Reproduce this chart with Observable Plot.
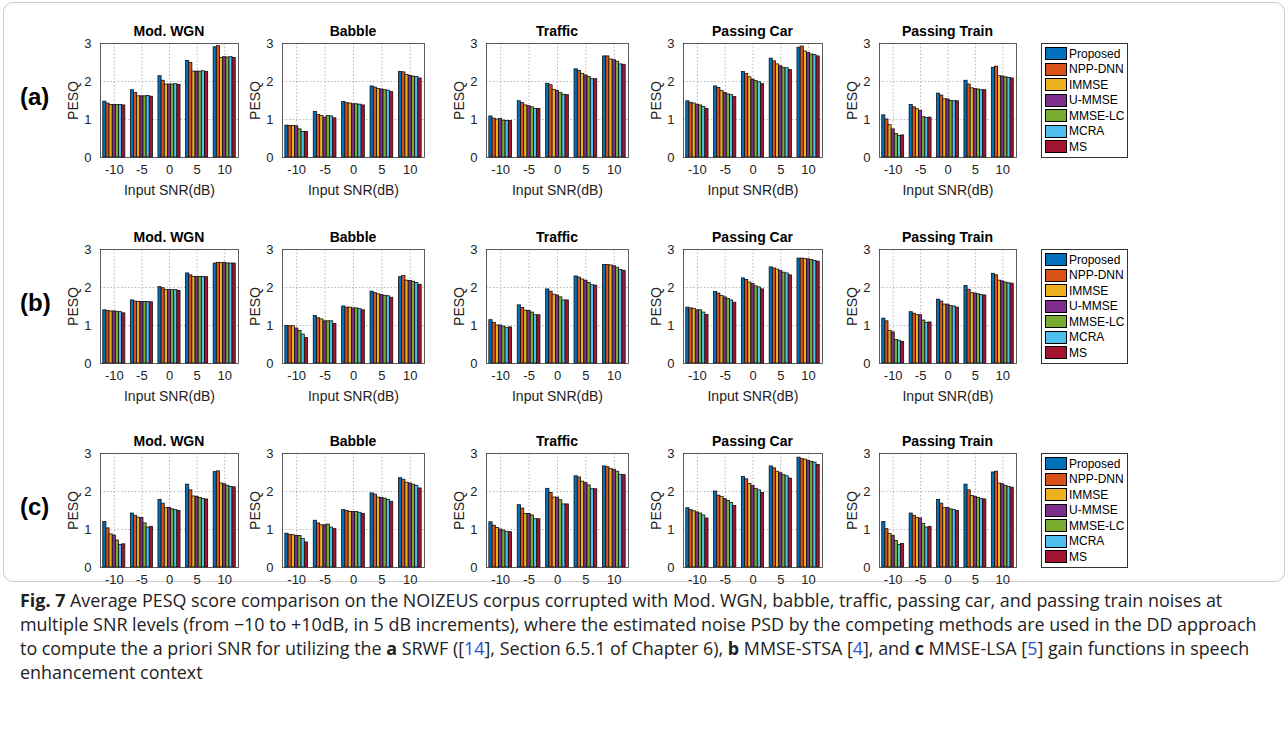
<!DOCTYPE html>
<html>
<head>
<meta charset="utf-8">
<script src="https://cdn.jsdelivr.net/npm/d3@7"></script>
<script src="https://cdn.jsdelivr.net/npm/@observablehq/plot@0.6"></script>
<style>
  body { margin: 0; background: #fff; font-family: "Liberation Sans", Arial, sans-serif; }
  #fig { position: relative; width: 1288px; height: 737px; }
  .box { position: absolute; left: 3px; top: 2px; width: 1280px; height: 578px; border: 1px solid #ccc; border-radius: 10px; }
  .title { position: absolute; font-weight: bold; font-size: 14px; text-align: center; }
  .tag { position: absolute; font-weight: bold; font-size: 24px; }
  .panel { position: absolute; }
  .legend { position: absolute; border: 1px solid #333; background: #fff; font-size: 12px; padding: 2px 3px; }
  .legend div { display: flex; align-items: center; height: 15.5px; }
  .legend span.sw { width: 20px; height: 11px; border: 1px solid #000; margin-right: 2px; }
  .caption { position: absolute; left: 20px; top: 588px; width: 1258px; font-family: "Open Sans", sans-serif; font-size: 17.9px; line-height: 24px; color: #222; }
  .caption a { color: #2a4fd6; text-decoration: none; }
</style>
</head>
<body>
<div id="fig"><div class="box"></div></div>
<script>
// methods and snr levels
const methods = ["Proposed", "NPP-DNN", "IMMSE", "U-MMSE", "MMSE-LC", "MCRA", "MS"]
const colors = ["#0072BD", "#D95319", "#EDB120", "#7E2F8E", "#77AC30", "#4DBEEE", "#A2142F"]
const snrLabels = ["-10", "-5", "0", "5", "10"]
const noises = ["Mod. WGN", "Babble", "Traffic", "Passing Car", "Passing Train"]

// (a) SRWF
const a_wgn = [[1.47,1.42,1.38,1.38,1.38,1.38,1.37],[1.77,1.70,1.61,1.61,1.61,1.62,1.60],[2.14,2.02,1.92,1.92,1.92,1.93,1.91],[2.54,2.49,2.26,2.26,2.26,2.27,2.25],[2.90,2.93,2.62,2.64,2.63,2.64,2.62]]
const a_babble = [[0.84,0.83,0.83,0.82,0.74,0.67,0.67],[1.20,1.12,1.09,1.05,1.09,1.08,1.03],[1.46,1.43,1.42,1.40,1.40,1.39,1.37],[1.87,1.84,1.80,1.79,1.77,1.76,1.72],[2.25,2.24,2.17,2.15,2.13,2.12,2.08]]
const a_traffic = [[1.08,1.02,1.00,1.01,0.97,0.96,0.96],[1.48,1.43,1.37,1.35,1.32,1.28,1.28],[1.94,1.90,1.78,1.75,1.70,1.65,1.64],[2.32,2.28,2.20,2.16,2.12,2.06,2.06],[2.66,2.66,2.58,2.56,2.52,2.45,2.44]]
const a_car = [[1.48,1.44,1.42,1.39,1.37,1.33,1.28],[1.87,1.83,1.75,1.70,1.66,1.64,1.59],[2.25,2.20,2.11,2.05,2.01,1.98,1.93],[2.60,2.53,2.45,2.40,2.36,2.35,2.30],[2.89,2.92,2.79,2.75,2.71,2.70,2.66]]
const a_train = [[1.11,1.00,0.85,0.74,0.62,0.57,0.58],[1.38,1.32,1.27,1.23,1.06,1.04,1.05],[1.68,1.63,1.53,1.53,1.49,1.48,1.48],[2.02,1.92,1.82,1.80,1.79,1.77,1.77],[2.36,2.39,2.14,2.13,2.11,2.09,2.08]]
// (b) MMSE-STSA
const b_wgn = [[1.40,1.38,1.37,1.37,1.36,1.35,1.32],[1.66,1.63,1.62,1.62,1.62,1.62,1.61],[2.01,1.98,1.93,1.93,1.93,1.93,1.91],[2.37,2.32,2.28,2.28,2.28,2.28,2.27],[2.63,2.65,2.64,2.65,2.63,2.63,2.63]]
const b_babble = [[0.99,0.98,0.98,0.92,0.86,0.76,0.67],[1.25,1.19,1.16,1.11,1.11,1.11,1.04],[1.50,1.47,1.47,1.45,1.45,1.43,1.40],[1.89,1.85,1.82,1.80,1.78,1.77,1.73],[2.27,2.30,2.18,2.17,2.15,2.12,2.07]]
const b_traffic = [[1.14,1.07,1.00,1.00,0.97,0.93,0.95],[1.53,1.46,1.39,1.38,1.34,1.27,1.27],[1.95,1.89,1.81,1.79,1.74,1.66,1.66],[2.29,2.26,2.21,2.18,2.12,2.06,2.05],[2.59,2.59,2.58,2.56,2.52,2.46,2.44]]
const b_car = [[1.47,1.45,1.44,1.40,1.40,1.34,1.28],[1.88,1.84,1.78,1.74,1.70,1.66,1.60],[2.24,2.20,2.13,2.09,2.03,2.00,1.95],[2.53,2.50,2.47,2.44,2.39,2.37,2.32],[2.76,2.76,2.75,2.74,2.72,2.70,2.68]]
const b_train = [[1.18,1.11,0.86,0.82,0.62,0.60,0.57],[1.35,1.31,1.27,1.27,1.13,1.07,1.08],[1.68,1.63,1.55,1.55,1.51,1.50,1.47],[2.04,1.94,1.85,1.84,1.82,1.80,1.79],[2.36,2.32,2.18,2.16,2.13,2.11,2.10]]
// (c) MMSE-LSA
const c_wgn = [[1.20,1.03,0.87,0.84,0.71,0.59,0.61],[1.42,1.36,1.31,1.30,1.16,1.05,1.07],[1.78,1.68,1.56,1.57,1.53,1.51,1.49],[2.18,2.03,1.87,1.86,1.83,1.80,1.79],[2.51,2.53,2.21,2.19,2.15,2.12,2.11]]
const c_babble = [[0.89,0.86,0.85,0.83,0.83,0.75,0.66],[1.23,1.16,1.11,1.11,1.13,1.05,1.01],[1.51,1.49,1.46,1.46,1.46,1.44,1.41],[1.95,1.92,1.84,1.83,1.81,1.78,1.73],[2.35,2.31,2.23,2.21,2.18,2.15,2.08]]
const c_traffic = [[1.19,1.10,1.04,1.00,0.97,0.93,0.93],[1.64,1.55,1.41,1.41,1.37,1.27,1.27],[2.07,1.96,1.84,1.84,1.77,1.66,1.66],[2.40,2.37,2.26,2.22,2.16,2.06,2.06],[2.66,2.64,2.59,2.57,2.52,2.44,2.43]]
const c_car = [[1.56,1.51,1.48,1.45,1.42,1.37,1.29],[2.00,1.89,1.86,1.80,1.75,1.70,1.62],[2.38,2.32,2.20,2.15,2.07,2.03,1.96],[2.66,2.61,2.52,2.48,2.43,2.40,2.34],[2.89,2.85,2.84,2.81,2.78,2.76,2.70]]
const c_train = [[1.20,1.01,0.88,0.83,0.70,0.59,0.62],[1.42,1.36,1.30,1.29,1.15,1.05,1.07],[1.78,1.68,1.56,1.57,1.53,1.51,1.49],[2.18,2.03,1.88,1.86,1.83,1.80,1.79],[2.50,2.52,2.21,2.19,2.15,2.12,2.10]]

const rows = [
  {tag: "(a)", data: [a_wgn, a_babble, a_traffic, a_car, a_train], top: 43, xlabel: true},
  {tag: "(b)", data: [b_wgn, b_babble, b_traffic, b_car, b_train], top: 249, xlabel: true},
  {tag: "(c)", data: [c_wgn, c_babble, c_traffic, c_car, c_train], top: 453, xlabel: false}
]
const plotLeft = [100, 282, 486, 683, 879]
const plotW = [138, 142, 142, 139, 137]
const plotH = 114
const mL = 42, mT = 6, mR = 4
const bw = 0.8 / methods.length

const fig = d3.select("#fig")

rows.forEach(row => {
  const mB = row.xlabel ? 40 : 22
  fig.append("div").attr("class", "tag").style("left", "20px").style("top", (row.top + 40) + "px").text(row.tag)
  row.data.forEach((vals, j) => {
    const table = []
    vals.forEach((g, i) => g.forEach((v, k) => table.push({
      snr: i, method: methods[k], x1: i - 0.4 + k * bw, x2: i - 0.4 + (k + 1) * bw, pesq: v
    })))
    const chart = Plot.plot({
      width: plotW[j] + mL + mR,
      height: plotH + mT + mB,
      marginLeft: mL, marginTop: mT, marginBottom: mB, marginRight: mR,
      style: {fontFamily: "Liberation Sans, Arial, sans-serif", fontSize: "13px", color: "#222", overflow: "visible"},
      x: {domain: [-0.5, 4.5], ticks: [0, 1, 2, 3, 4], tickFormat: i => snrLabels[i], tickSize: 0,
          tickPadding: 7, label: row.xlabel ? "Input SNR(dB)" : null, labelArrow: "none",
          labelAnchor: "center", labelOffset: 37},
      y: {domain: [0, 3], ticks: [0, 1, 2, 3], tickFormat: d3.format("d"), tickSize: 0, tickPadding: 9,
          label: "PESQ", labelArrow: "none", labelAnchor: "center", labelOffset: 32},
      color: {domain: methods, range: colors},
      marks: [
        Plot.gridX([0, 1, 2, 3, 4], {stroke: "#999", strokeDasharray: "1.5,2", strokeOpacity: 0.7}),
        Plot.gridY([1, 2], {stroke: "#999", strokeDasharray: "1.5,2", strokeOpacity: 0.7}),
        Plot.rectY(table, {x1: "x1", x2: "x2", y: "pesq", fill: "method", stroke: "#111", strokeWidth: 0.8, inset: 0}),
        Plot.frame({stroke: "#333", strokeWidth: 0.8})
      ]
    })
    d3.select(chart).selectAll("[aria-label='y-axis label'] text, [aria-label='x-axis label'] text").style("font-size", "14px")
    d3.select(chart).selectAll("[aria-label='y-axis tick label'] text, [aria-label='x-axis tick label'] text").style("font-size", "13px")
    fig.append("div").attr("class", "panel")
      .style("left", (plotLeft[j] - mL) + "px").style("top", (row.top - mT) + "px")
      .node().appendChild(chart)
    fig.append("div").attr("class", "title")
      .style("left", plotLeft[j] + "px").style("width", plotW[j] + "px")
      .style("top", (row.top - 20) + "px").text(noises[j])
  })
  const lg = fig.append("div").attr("class", "legend").style("left", "1041px").style("top", row.top + "px")
  methods.forEach((m, k) => {
    const r = lg.append("div")
    r.append("span").attr("class", "sw").style("background", colors[k])
    r.append("span").text(m)
  })
})

fig.append("div").attr("class", "caption").html(
  '<b>Fig. 7</b> Average PESQ score comparison on the NOIZEUS corpus corrupted with Mod. WGN, babble, traffic, passing car, and passing train noises at multiple SNR levels (from −10 to +10dB, in 5 dB increments), where the estimated noise PSD by the competing methods are used in the DD approach to compute the a priori SNR for utilizing the <b>a</b> SRWF ([<a>14</a>], Section 6.5.1 of Chapter 6), <b>b</b> MMSE-STSA [<a>4</a>], and <b>c</b> MMSE-LSA [<a>5</a>] gain functions in speech enhancement context'
)
</script>
</body>
</html>
